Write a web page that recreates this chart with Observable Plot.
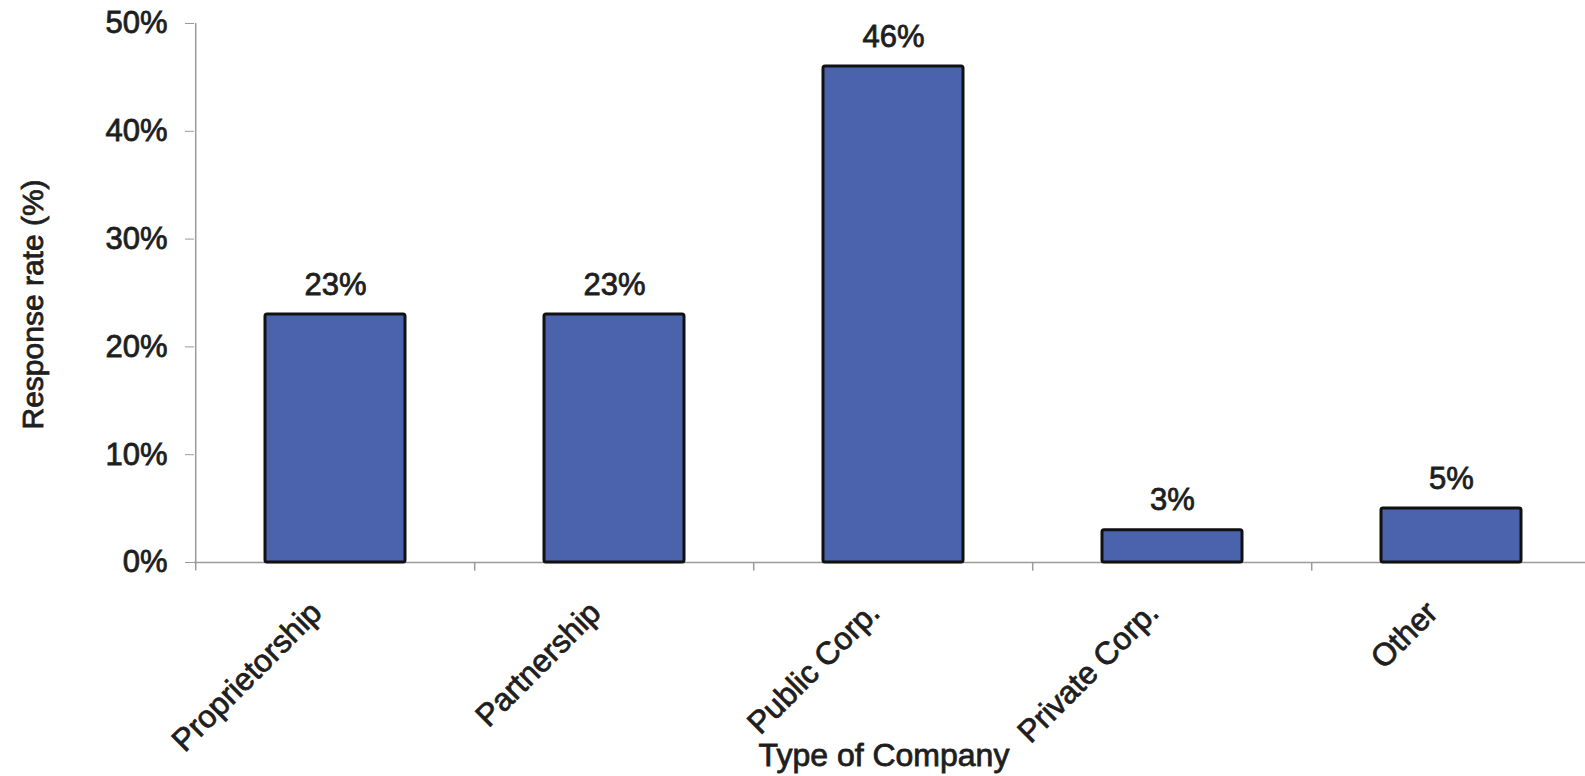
<!DOCTYPE html>
<html>
<head>
<meta charset="utf-8">
<script src="https://cdn.jsdelivr.net/npm/d3@7"></script>
<script src="https://cdn.jsdelivr.net/npm/@observablehq/plot@0.6"></script>
<style>
  html, body { margin: 0; padding: 0; background: #fff; }
  #chart svg { display: block; max-width: none; }
  /* slightly heavier lettering */
  #chart svg text { stroke: #1e1e1e; stroke-width: 0.8px; }
</style>
</head>
<body>
<div id="chart"></div>
<script>
// Survey response rate by type of company
const categories = ["Proprietorship", "Partnership", "Public Corp.", "Private Corp.", "Other"];
const responseRates = [23, 23, 46, 3, 5];
const yTicks = [0, 10, 20, 30, 40, 50];
const xTitle = "Type of Company";
const yTitle = "Response rate (%)";

const data = categories.map((type, i) => ({type, rate: responseRates[i]}));

const W = 1585, H = 776;
const left = 194, right = 1592;           // band range runs slightly past the right edge
const step = (right - left) / categories.length;
const font = "'Liberation Sans', Arial, Helvetica, sans-serif";
const ink = "#1e1e1e";
const axisGray = "#9a9a9a";

const chart = Plot.plot({
  width: W,
  height: H,
  marginTop: 23,
  marginBottom: 214,
  marginLeft: left,
  marginRight: 0,
  style: {fontFamily: font, background: "#fff", overflow: "visible"},
  x: {domain: categories, range: [left, right], paddingInner: 0.5, paddingOuter: 0.25, axis: null},
  y: {domain: [0, 50], axis: null},
  marks: [
    // baseline and y-axis line
    Plot.ruleY([0], {stroke: axisGray, strokeWidth: 1.5}),
    Plot.ruleX(categories.slice(0, 1), {x: d => d, dx: -step / 2, y1: -0.8, y2: 50, stroke: axisGray, strokeWidth: 1.5}),
    // category boundary ticks below the baseline
    Plot.ruleX(categories.slice(1), {x: d => d, dx: -step / 2, y1: 0, y2: -0.8, stroke: axisGray, strokeWidth: 1.5}),
    Plot.axisY({
      ticks: yTicks,
      tickFormat: d => d + "%",
      tickSize: 9,
      tickPadding: 18,
      fontSize: 31,
      stroke: axisGray,
      fill: ink,
      label: null
    }),
    Plot.barY(data, {x: "type", y: "rate", fill: "#4b63ad", stroke: "#111", strokeWidth: 3, rx: 2}),
    Plot.text(data, {x: "type", y: "rate", text: d => d.rate + "%", dy: -20, lineAnchor: "bottom", fontSize: 31, fill: ink}),
    Plot.text(data, {
      x: "type", y: 0, text: "type",
      rotate: -45, textAnchor: "end", lineAnchor: "bottom",
      dx: -12, dy: 52, fontSize: 31.5, fill: ink
    }),
    Plot.text([xTitle], {frameAnchor: "bottom", text: d => d, lineAnchor: "bottom", dx: -6, dy: 203, fontSize: 32, fill: ink}),
    Plot.text([yTitle], {
      frameAnchor: "bottom-left", text: d => d,
      rotate: -90, textAnchor: "start", lineAnchor: "bottom",
      dx: -152, dy: -133, fontSize: 30, fill: ink,
      style: "letter-spacing: 1.2px"
    })
  ]
});

document.getElementById("chart").appendChild(chart);
</script>
</body>
</html>
